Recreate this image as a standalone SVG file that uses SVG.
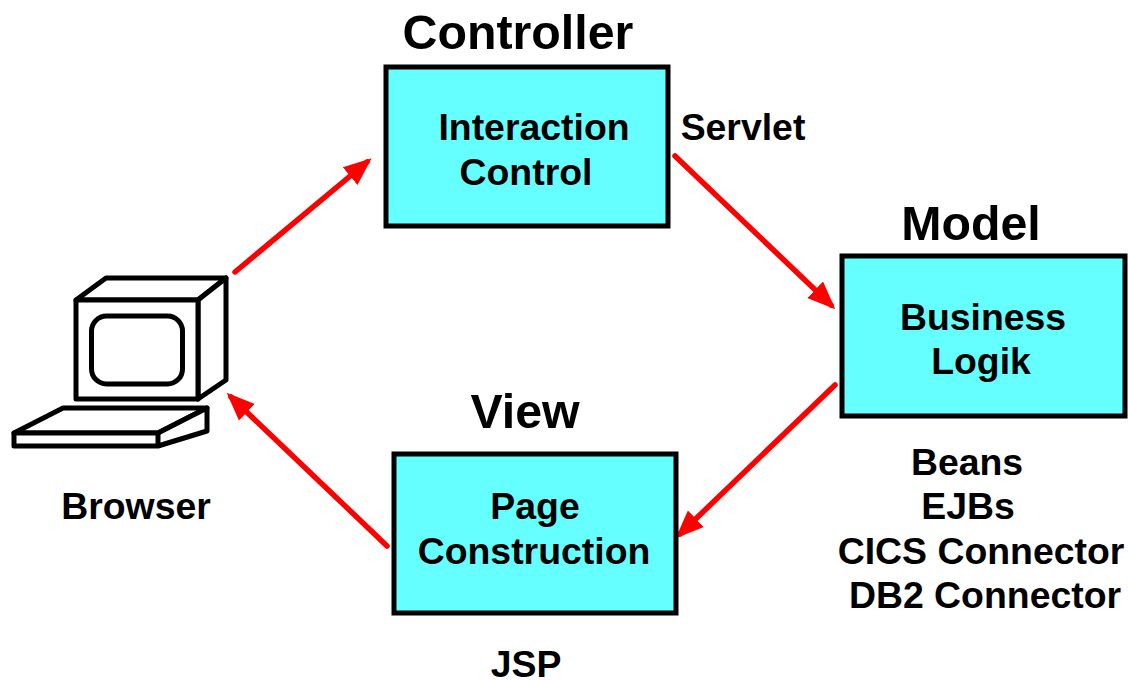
<svg xmlns="http://www.w3.org/2000/svg" width="1129" height="680" viewBox="0 0 1129 680">
<style>
text{font-family:"Liberation Sans",Arial,sans-serif;font-weight:bold;fill:#000;text-anchor:middle}
.t{font-size:48.3px}.l{font-size:37.4px}
.b{fill:#66ffff;stroke:#000;stroke-width:5}
.c{fill:none;stroke:#ff0000;stroke-width:5.5;stroke-linecap:round}
.p{fill:#fff;stroke:#000;stroke-width:5;stroke-linejoin:round}
</style>
<defs><marker id="a" markerUnits="userSpaceOnUse" markerWidth="32" markerHeight="26" refX="22" refY="12" orient="auto"><path d="M0 0.500L28 12L0 23.500Z" fill="#ff0000"/></marker></defs>
<rect width="1129" height="680" fill="#fff"/>
<g id="connectors">
<line class="c" x1="235" y1="272" x2="367" y2="162" marker-end="url(#a)"/>
<line class="c" x1="675" y1="156" x2="831" y2="305" marker-end="url(#a)"/>
<line class="c" x1="835" y1="385" x2="680" y2="534" marker-end="url(#a)"/>
<line class="c" x1="387" y1="546" x2="231" y2="397" marker-end="url(#a)"/>
</g>
<g id="controller"><rect class="b" x="386" y="67" width="282" height="159"/>
<text class="t" x="518" y="49">Controller</text><text class="l" x="534" y="140">Interaction</text><text class="l" x="526" y="185">Control</text><text class="l" x="743" y="140">Servlet</text></g>
<g id="model"><rect class="b" x="842" y="256" width="283" height="160"/>
<text class="t" x="971" y="240">Model</text><text class="l" x="983" y="330">Business</text><text class="l" x="981" y="374">Logik</text>
<text class="l" x="967" y="475">Beans</text><text class="l" x="968" y="519">EJBs</text><text class="l" x="981" y="564">CICS Connector</text><text class="l" x="985" y="608">DB2 Connector</text></g>
<g id="view"><rect class="b" x="394" y="454" width="282" height="159"/>
<text class="t" x="525" y="428">View</text><text class="l" x="535" y="519">Page</text><text class="l" x="534" y="564">Construction</text><text class="l" x="526" y="677">JSP</text></g>
<g id="browser">
<path class="p" d="M76 300L106 278H226L198 300Z"/>
<path class="p" d="M198 300L226 278V380L198 399Z"/>
<rect class="p" x="76" y="300" width="122" height="99"/>
<rect class="p" x="91.500" y="316" width="91" height="68" rx="15"/>
<path class="p" d="M14 433L63 408H207L158 433Z"/>
<path class="p" d="M14 433V446H158L207 431V408L158 433Z"/>
<line x1="158" y1="433" x2="158" y2="446" stroke="#000" stroke-width="5"/>
<text class="l" x="136" y="519">Browser</text></g>
</svg>
